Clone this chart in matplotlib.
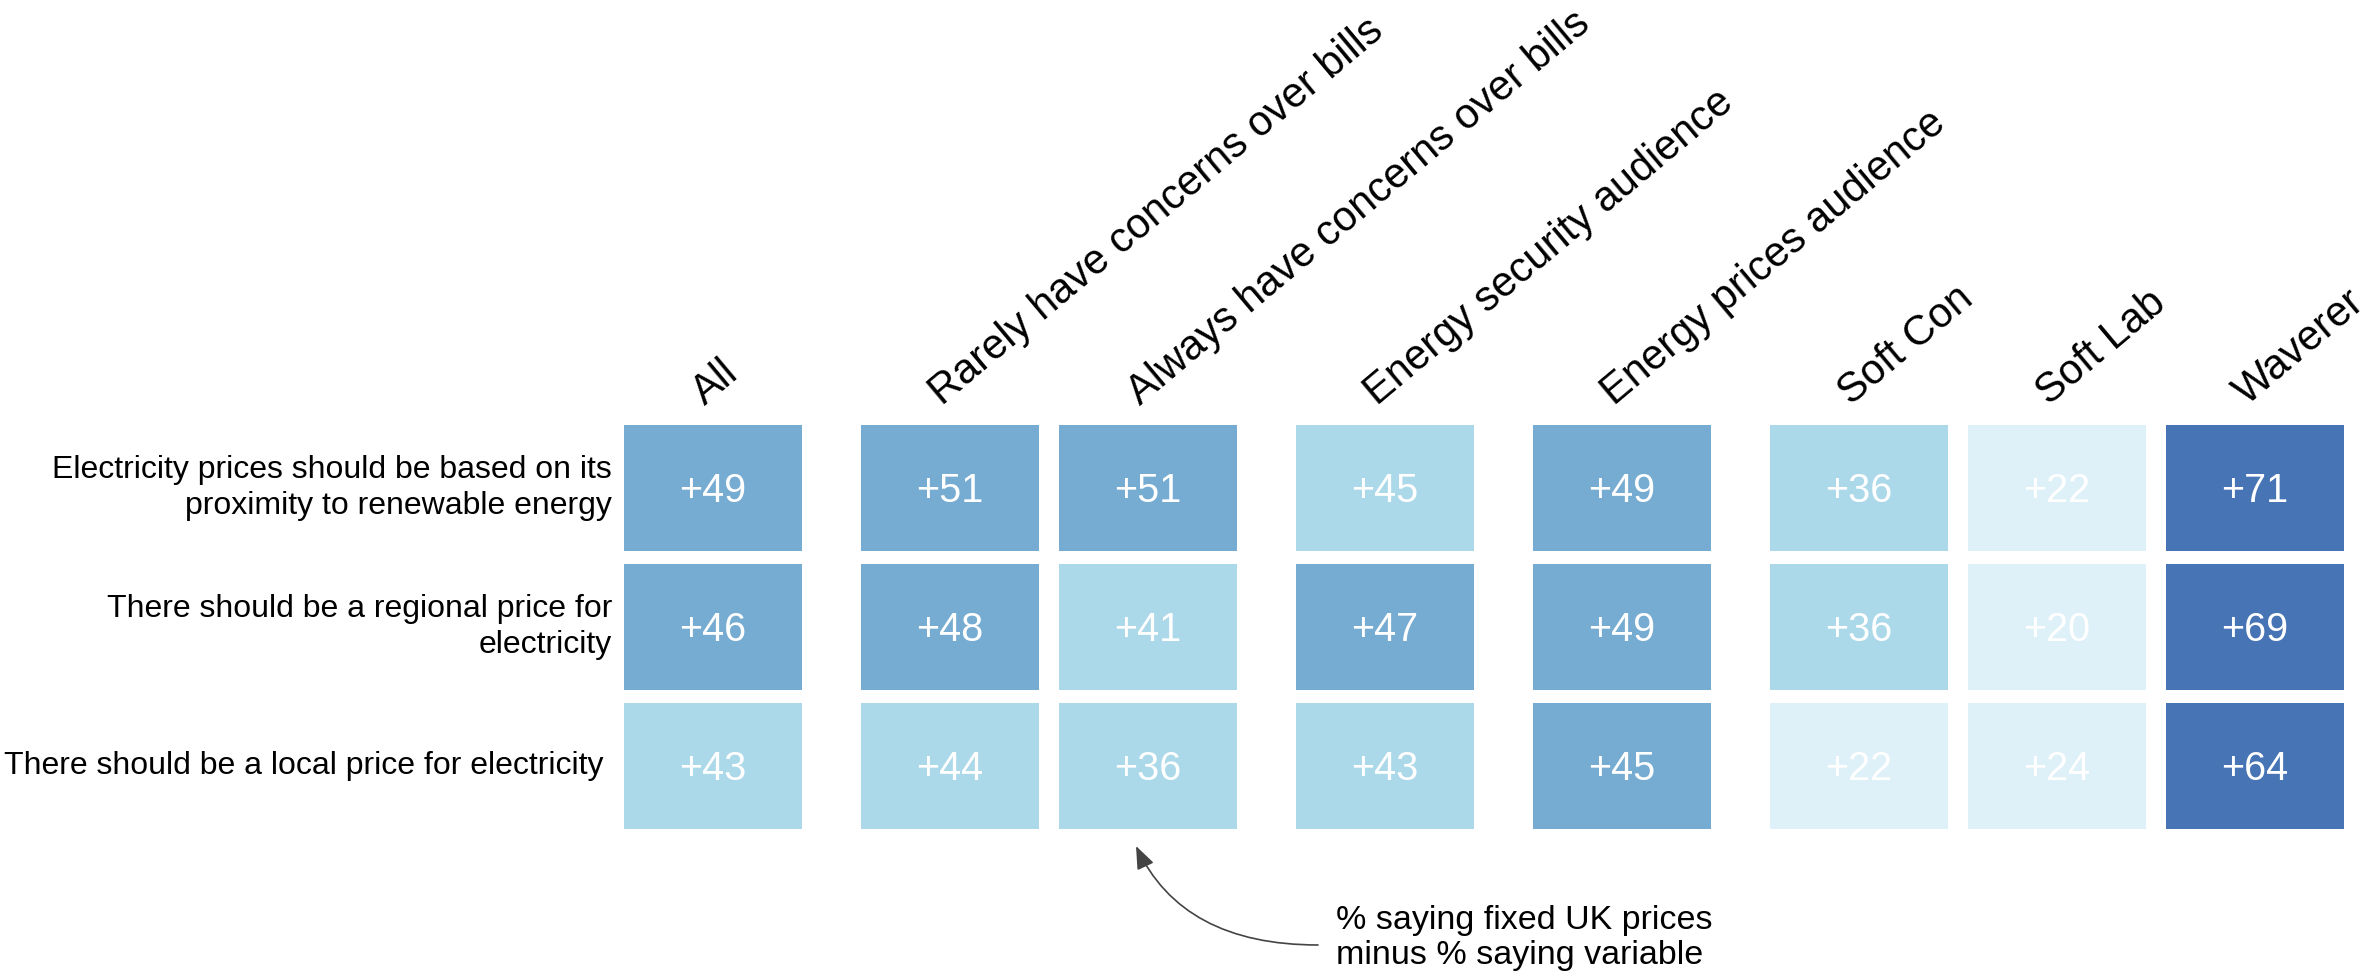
import matplotlib
matplotlib.use("Agg")
import matplotlib.pyplot as plt
from matplotlib.colors import ListedColormap, BoundaryNorm
from matplotlib.patches import FancyArrowPatch

plt.rcParams['font.family'] = ['Liberation Sans', 'DejaVu Sans']

# ---------------- data ----------------
statements = [
    "Electricity prices should be based on its\nproximity to renewable energy",
    "There should be a regional price for\nelectricity",
    "There should be a local price for electricity ",
]
columns = ["All", "Rarely have concerns over bills", "Always have concerns over bills",
           "Energy security audience", "Energy prices audience",
           "Soft Con", "Soft Lab", "Waverer"]
column_groups = [0, 1, 1, 2, 3, 4, 4, 4]

net_all = [49, 46, 43]
net_rarely = [51, 48, 44]
net_always = [51, 41, 36]
net_energy_security = [44.6, 47, 43]
net_energy_prices = [49, 49, 45.4]
net_soft_con = [36, 36, 22]
net_soft_lab = [22, 20, 24]
net_waverer = [71, 69, 64]
series = [net_all, net_rarely, net_always, net_energy_security,
          net_energy_prices, net_soft_con, net_soft_lab, net_waverer]

annotation_text = "% saying fixed UK prices\nminus % saying variable"

# ---------------- styling ----------------
shade_bounds = [0, 30, 45, 60, 100]
shade_colors = ["#dff1f8", "#acd9e9", "#76acd1", "#4674b4"]
cmap = ListedColormap(shade_colors)
norm = BoundaryNorm(shade_bounds, cmap.N)

W, H, DPI = 2374, 980, 100
grid_left, grid_top = 624, 425
cell_w, cell_h = 178, 126
gap_small, gap_large, row_gap = 20, 59, 13

fig = plt.figure(figsize=(W / DPI, H / DPI), dpi=DPI)
ax = fig.add_axes([0, 0, 1, 1])
ax.set_xlim(0, W)
ax.set_ylim(H, 0)
ax.axis("off")

# column positions from groups
x_lefts = []
x = grid_left
for i, g in enumerate(column_groups):
    if i > 0:
        x += cell_w + (gap_small if g == column_groups[i - 1] else gap_large)
    x_lefts.append(x)
x_centers = [xl + cell_w / 2 for xl in x_lefts]

num_fs = 28.5
cap_half = 0.716 * num_fs * DPI / 72 / 2

for r, label in enumerate(statements):
    top = grid_top + r * (cell_h + row_gap)
    vals = [s[r] for s in series]
    ax.bar(x_centers, [cell_h] * len(vals), width=cell_w, bottom=top,
           color=[cmap(norm(v)) for v in vals], linewidth=0)
    yc = top + cell_h / 2
    for xc, v in zip(x_centers, vals):
        ax.text(xc, yc + cap_half, f"+{v:.0f}", ha="center", va="baseline",
                fontsize=num_fs, color="white")
    ax.text(grid_left - 12, yc, label, ha="right", va="center", ma="right",
            fontsize=23, color="black", linespacing=1.25)

for xc, name in zip(x_centers, columns):
    ax.text(xc - 8, grid_top - 19, name, rotation=40, rotation_mode="anchor",
            ha="left", va="baseline", fontsize=30, color="black")

# annotation
grid_bottom = grid_top + 3 * cell_h + 2 * row_gap
ax.text(1336, grid_bottom + 109, annotation_text, ha="left", va="center",
        fontsize=24.5, color="black", linespacing=1.2)
arrow = FancyArrowPatch(posA=(1318, grid_bottom + 116), posB=(x_centers[2] - 12, grid_bottom + 17),
                        connectionstyle="angle3,angleA=180,angleB=115",
                        arrowstyle="-|>,head_length=14,head_width=5.5",
                        mutation_scale=1, color="#444444", linewidth=1.2,
                        shrinkA=0, shrinkB=0)
ax.add_patch(arrow)

fig.savefig("out.png", dpi=DPI, facecolor="white")
